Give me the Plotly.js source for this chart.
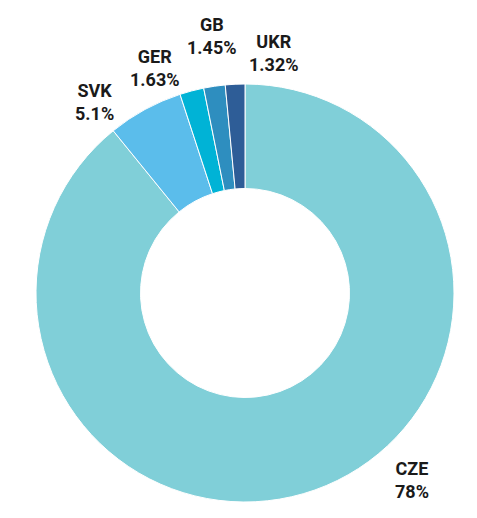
<!DOCTYPE html>
<html>
<head>
<meta charset="utf-8">
<script src="https://cdn.plot.ly/plotly-3.0.1.min.js"></script>
<style>html,body{margin:0;padding:0;background:#fff;}#chart{width:477px;height:518px;}</style>
</head>
<body>
<div id="chart"></div>
<script>
const countries = ["CZE", "SVK", "GER", "GB", "UKR"];
const shares = [78, 5.1, 1.63, 1.45, 1.32];
const shareLabels = ["78%", "5.1%", "1.63%", "1.45%", "1.32%"];
const colors = ["#80CFD8", "#5BBDEB", "#00B3D6", "#2E8EBF", "#2E5D97"];

const W = 477, H = 518;
// label centres (px) for each category
const labelPos = [[412, 480], [94, 102], [155, 68], [212, 36], [274, 53]];

const trace = {
  type: "pie",
  values: shares,
  labels: countries,
  sort: false,
  direction: "clockwise",
  rotation: 0,
  hole: 0.5,
  textinfo: "none",
  hoverinfo: "label+percent",
  marker: { colors: colors, line: { color: "#ffffff", width: 1 } },
  domain: { x: [36 / W, 454 / W], y: [1 - 502 / H, 1 - 84 / H] },
  showlegend: false
};

const annotations = countries.map((c, i) => ({
  x: labelPos[i][0] / W,
  y: 1 - labelPos[i][1] / H,
  xref: "paper", yref: "paper",
  xanchor: "center", yanchor: "middle",
  showarrow: false,
  align: "center",
  text: "<b>" + c + "<br>" + shareLabels[i] + "</b>",
  font: { family: "Roboto, sans-serif", size: 18, color: "#1a1a1a" }
}));

Plotly.newPlot("chart", [trace], {
  width: W, height: H,
  margin: { l: 0, r: 0, t: 0, b: 0 },
  paper_bgcolor: "#ffffff",
  annotations: annotations
}, { displayModeBar: false, staticPlot: true });
</script>
</body>
</html>
